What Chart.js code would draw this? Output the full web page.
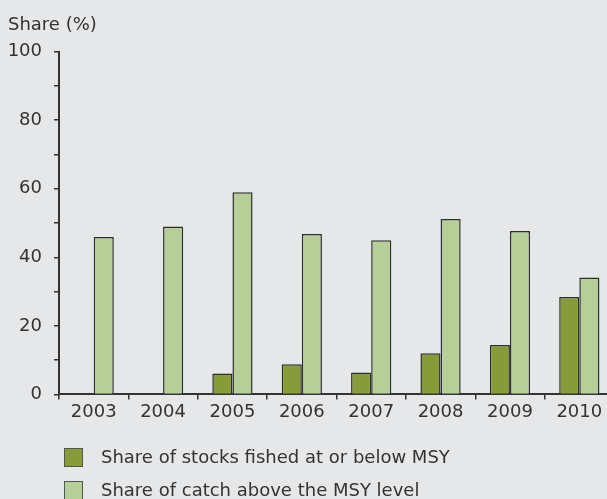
<!DOCTYPE html>
<html lang="en">

<head>
    <meta charset="UTF-8">
    <title>Share of stocks and catch vs MSY</title>
    <style>
        html, body {
            margin: 0;
            padding: 0;
            background: #e6e7e9;
            overflow: hidden;
            width: 607px;
            height: 499px;
        }
        .wrap {
            position: relative;
            width: 614px;
            height: 499px;
        }
        .legend-row {
            position: absolute;
            left: 64px;
            height: 19px;
            font: 18px "DejaVu Sans", Verdana, sans-serif;
            color: #333;
            white-space: nowrap;
        }
        .legend-row span.box {
            position: absolute;
            left: 0;
            top: 0;
            width: 17px;
            height: 17px;
            border: 1px solid #555;
        }
        .legend-row span.txt {
            position: absolute;
            left: 37px;
            top: -2px;
            line-height: 22px;
        }
    </style>
    <script src="https://cdn.jsdelivr.net/npm/chart.js"></script>
</head>

<body>
    <div class="wrap">
        <canvas id="myChart" width="614" height="499"></canvas>
        <div class="legend-row" style="top:448px"><span class="box" id="lg0"></span><span class="txt" id="lt0"></span></div>
        <div class="legend-row" style="top:481px"><span class="box" id="lg1"></span><span class="txt" id="lt1"></span></div>
    </div>

    <script>
        const years = ['2003', '2004', '2005', '2006', '2007', '2008', '2009', '2010'];
        const stocksAtMsy = [null, null, 6.1, 8.8, 6.4, 12.0, 14.4, 28.4];
        const catchAboveMsy = [45.9, 49.0, 59.0, 46.8, 45.0, 51.2, 47.7, 34.1];
        const seriesNames = ['Share of stocks fished at or below MSY', 'Share of catch above the MSY level'];
        const seriesColors = ['#879b38', '#b6cf99'];

        const font = { family: '"DejaVu Sans", Verdana, sans-serif', size: 18 };
        const ink = '#333';

        // html legend, the chart's own one can't be placed like the original
        seriesNames.forEach((name, i) => {
            document.getElementById('lg' + i).style.background = seriesColors[i];
            document.getElementById('lt' + i).textContent = name;
        });

        const ctx = document.getElementById('myChart');

        new Chart(ctx, {
            type: 'bar',
            data: {
                labels: years,
                datasets: [{
                    label: seriesNames[0],
                    data: stocksAtMsy,
                    backgroundColor: seriesColors[0],
                    borderColor: '#2e2e2e',
                    borderWidth: 1.5
                }, {
                    label: seriesNames[1],
                    data: catchAboveMsy,
                    backgroundColor: seriesColors[1],
                    borderColor: '#2e2e2e',
                    borderWidth: 1.5
                }]
            },
            options: {
                responsive: false,
                animation: false,
                layout: {
                    padding: { left: 8, right: 0, top: 0, bottom: 74 }
                },
                datasets: {
                    bar: {
                        categoryPercentage: 0.58,
                        barPercentage: 1
                    }
                },
                plugins: {
                    legend: { display: false },
                    tooltip: { enabled: false },
                    title: {
                        display: true,
                        text: 'Share (%)',
                        align: 'start',
                        color: ink,
                        font: { ...font, weight: 'normal' },
                        padding: { top: 15, bottom: 15 }
                    }
                },
                scales: {
                    x: {
                        grid: {
                            offset: true,
                            drawOnChartArea: false,
                            tickLength: 5,
                            color: ink,
                            lineWidth: 1.5
                        },
                        border: { color: ink, width: 2 },
                        ticks: { color: ink, font: font, padding: 2, maxRotation: 0 }
                    },
                    y: {
                        min: 0,
                        max: 100,
                        afterFit: s => { s.width = 51; },
                        grid: {
                            drawOnChartArea: false,
                            tickLength: 5,
                            color: ink,
                            lineWidth: 1.5
                        },
                        border: { color: ink, width: 2 },
                        ticks: {
                            stepSize: 10,
                            color: ink,
                            font: font,
                            padding: 12,
                            callback: v => (v % 20 === 0 ? v : '')
                        }
                    }
                }
            }
        });
    </script>
</body>

</html>
